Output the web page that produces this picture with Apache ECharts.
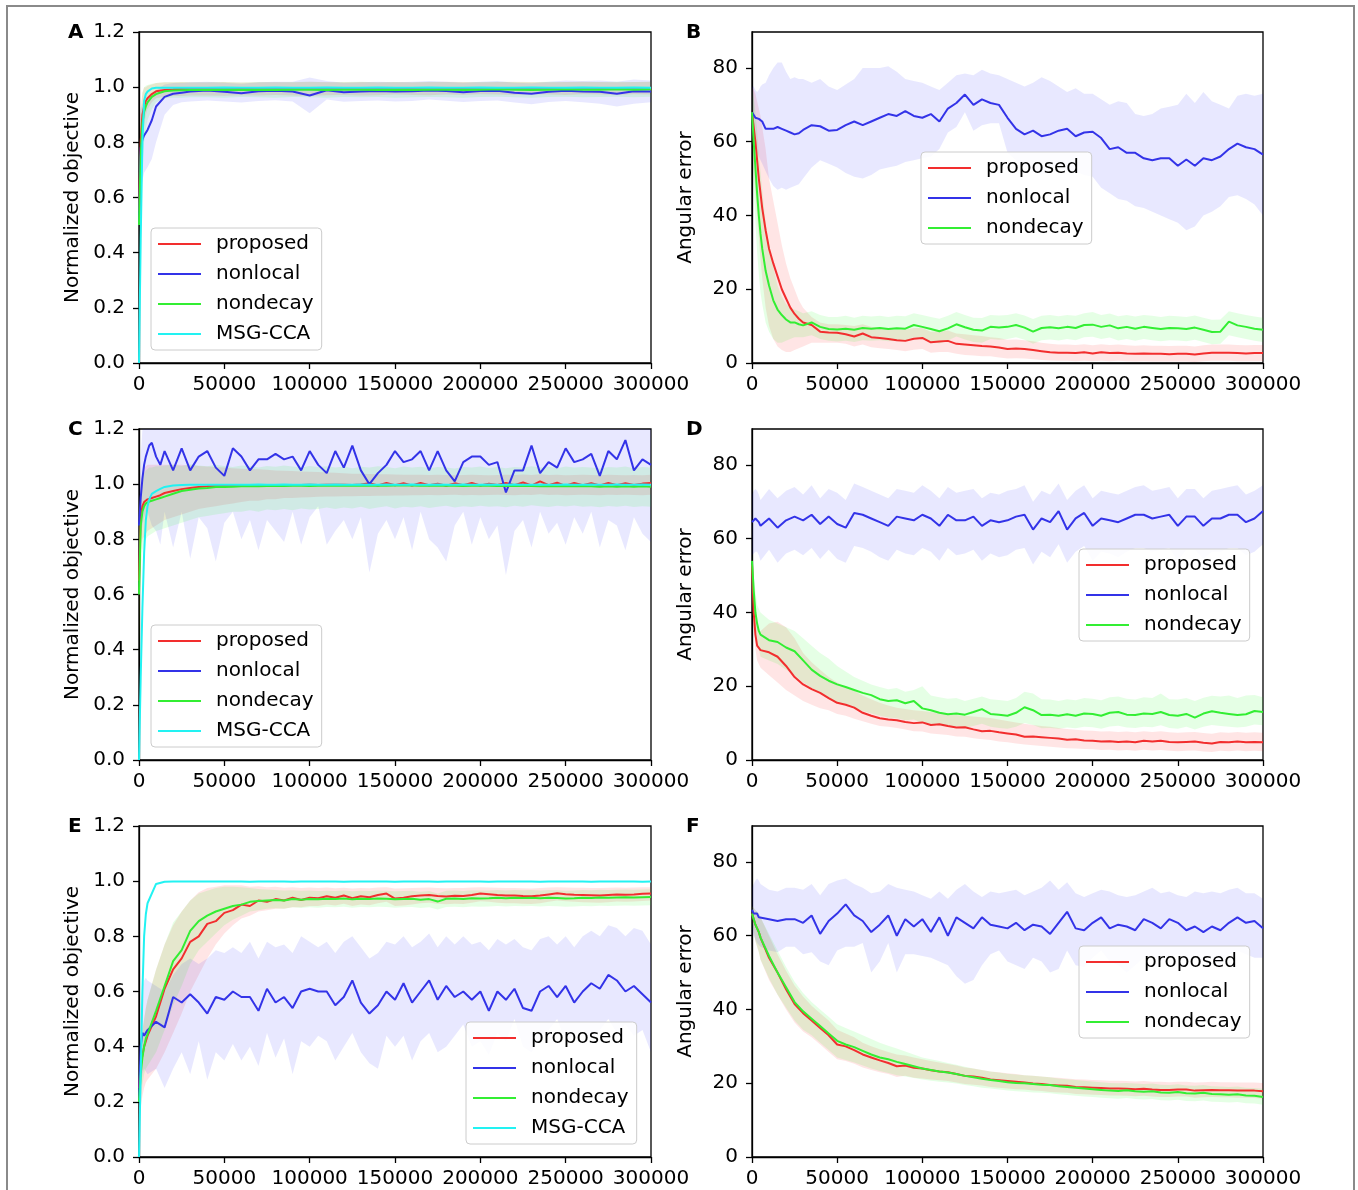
<!DOCTYPE html>
<html>
<head>
<meta charset="utf-8">
<script src="https://cdn.jsdelivr.net/npm/echarts@6/dist/echarts.min.js"></script>
<style>
  html, body { margin: 0; background: #fff; }
  #chart { width: 1358px; height: 1190px; }
</style>
</head>
<body>
<div id="chart"></div>
<script>
const range = (a, b, s) => { const r = []; for (let v = a; v <= b; v += s) r.push(v); return r }

// iteration positions of the samples, per panel
const xA = [0, 1000, 2000, 3000, 4000, 5000, 7500, 10000, 15000, 20000, 25000, 30000].concat(range(40000, 300000, 10000))
const xB = [0, 1000, 2000, 3000, 4000, 5000, 6000, 8000, 10000, 12500, 15000, 17500, 20000, 22500, 25000, 27500].concat(range(30000, 300000, 5000))
const xC = [0, 1000, 2000, 3000, 4000, 5000, 6000, 7500, 10000, 12500].concat(range(15000, 300000, 5000))
const xD = [0, 1000, 2000, 3000, 4000].concat(range(5000, 300000, 5000))
const xE = xD
const xF = xD

const xTicks = [0, 50000, 100000, 150000, 200000, 250000, 300000]
const objTicks = [0, 0.2, 0.4, 0.6, 0.8, 1.0, 1.2]
const angTicks = [0, 20, 40, 60, 80]

// ---- A: normalized objective ----
const aProposed = [0.55, 0.80, 0.90, 0.93, 0.95, 0.96, 0.975, 0.985, 0.990, 0.992, 0.993, 0.993,
  0.994, 0.993, 0.994, 0.994, 0.993, 0.994, 0.994, 0.995, 0.994, 0.995,
  0.995, 0.996, 0.995, 0.996, 0.995, 0.996, 0.996, 0.995, 0.996, 0.996,
  0.997, 0.996, 0.996, 0.997, 0.996, 0.996, 0.997]
const aProposedLo = [0.35, 0.65, 0.80, 0.86, 0.90, 0.92, 0.945, 0.960, 0.965, 0.968, 0.968, 0.970,
  0.970, 0.969, 0.971, 0.970, 0.972, 0.970, 0.968, 0.971, 0.972, 0.970,
  0.971, 0.973, 0.972, 0.971, 0.973, 0.972, 0.974, 0.973, 0.972, 0.974,
  0.973, 0.972, 0.974, 0.973, 0.972, 0.974, 0.973]
const aProposedHi = [0.75, 0.92, 0.98, 1.00, 1.00, 1.005, 1.010, 1.015, 1.018, 1.018, 1.019, 1.018,
  1.018, 1.019, 1.017, 1.018, 1.019, 1.018, 1.020, 1.019, 1.018, 1.019,
  1.018, 1.019, 1.018, 1.019, 1.020, 1.019, 1.018, 1.019, 1.020, 1.019,
  1.018, 1.019, 1.020, 1.019, 1.018, 1.019, 1.020]
const aNonlocal = [0.50, 0.78, 0.81, 0.825, 0.835, 0.845, 0.88, 0.93, 0.965, 0.976, 0.980, 0.984,
  0.988, 0.983, 0.978, 0.985, 0.987, 0.984, 0.970, 0.989, 0.982, 0.984,
  0.986, 0.984, 0.985, 0.988, 0.986, 0.982, 0.986, 0.987, 0.980, 0.976,
  0.983, 0.987, 0.984, 0.983, 0.976, 0.985, 0.984]
const aNonlocalLo = [0.30, 0.60, 0.66, 0.69, 0.70, 0.71, 0.74, 0.80, 0.90, 0.935, 0.945, 0.948,
  0.952, 0.948, 0.944, 0.950, 0.953, 0.948, 0.905, 0.955, 0.947, 0.950,
  0.952, 0.948, 0.950, 0.955, 0.951, 0.946, 0.950, 0.952, 0.944, 0.938,
  0.946, 0.950, 0.945, 0.940, 0.930, 0.940, 0.945]
const aNonlocalHi = [0.70, 0.92, 0.94, 0.95, 0.955, 0.96, 0.975, 0.99, 1.01, 1.015, 1.015, 1.018,
  1.020, 1.016, 1.012, 1.018, 1.020, 1.020, 1.035, 1.022, 1.016, 1.018,
  1.020, 1.018, 1.020, 1.022, 1.020, 1.016, 1.020, 1.022, 1.016, 1.014,
  1.020, 1.024, 1.022, 1.024, 1.020, 1.028, 1.024]
const aNondecay = [0.50, 0.75, 0.87, 0.91, 0.93, 0.945, 0.965, 0.975, 0.985, 0.988, 0.989, 0.990,
  0.990, 0.991, 0.990, 0.991, 0.990, 0.991, 0.991, 0.990, 0.991, 0.991,
  0.990, 0.991, 0.990, 0.991, 0.991, 0.990, 0.991, 0.992, 0.991, 0.990,
  0.991, 0.992, 0.991, 0.991, 0.992, 0.991, 0.992]
const aNondecayLo = [0.30, 0.55, 0.72, 0.80, 0.85, 0.88, 0.92, 0.945, 0.960, 0.962, 0.962, 0.963,
  0.963, 0.962, 0.964, 0.963, 0.962, 0.964, 0.963, 0.962, 0.964, 0.963,
  0.964, 0.962, 0.963, 0.964, 0.963, 0.962, 0.964, 0.965, 0.963, 0.962,
  0.964, 0.965, 0.963, 0.964, 0.965, 0.963, 0.965]
const aNondecayHi = [0.70, 0.92, 0.98, 1.00, 1.005, 1.008, 1.012, 1.015, 1.018, 1.018, 1.019, 1.018,
  1.018, 1.019, 1.017, 1.019, 1.018, 1.019, 1.020, 1.018, 1.019, 1.020,
  1.018, 1.019, 1.018, 1.020, 1.019, 1.018, 1.019, 1.020, 1.019, 1.018,
  1.020, 1.019, 1.020, 1.019, 1.020, 1.019, 1.020]
const aMsg = [0.0, 0.45, 0.80, 0.95, 0.975, 0.984, 0.995, 0.998, 0.998, 0.998, 0.998, 0.998,
  0.998, 0.999, 0.998, 0.998, 0.999, 0.998, 0.998, 0.999, 0.998, 0.998,
  0.999, 0.998, 0.998, 0.999, 0.998, 0.998, 0.999, 0.998, 0.998, 0.999,
  0.998, 0.998, 0.999, 0.998, 0.998, 0.999, 0.998]

// ---- B: angular error ----
const bProposed = [68, 64, 60, 55, 50, 46, 42, 36, 31, 27, 23.5, 20, 17.5, 15, 13.3, 12,
  11, 10.3, 8.5, 8.3, 8.2, 7.8, 7.2, 8, 7, 6.8,
  6.5, 6.2, 6, 6.6, 6.8, 5.6, 5.8, 6, 5.2, 5,
  4.8, 4.6, 4.5, 4.2, 3.8, 3.9, 3.8, 3.5, 3.2, 2.9,
  2.8, 2.8, 2.7, 2.9, 2.6, 2.9, 2.7, 2.8, 2.6, 2.5,
  2.6, 2.5, 2.5, 2.4, 2.5, 2.5, 2.3, 2.6, 2.8, 2.8,
  2.8, 2.7, 2.6, 2.7, 2.7]
const bProposedLo = [60, 52, 46, 40, 34, 28, 23, 15, 10, 6.5, 4.5, 3.5, 3, 3, 3.5, 4,
  4.5, 5.5, 5.5, 5.5, 5.5, 5.2, 4.5, 5, 4.3, 4,
  3.8, 3.5, 3.2, 3.6, 3.8, 2.8, 3, 3, 2.5, 2.2,
  2, 1.8, 1.8, 1.5, 1.2, 1.3, 1.2, 1, 0.8, 0.7,
  0.6, 0.6, 0.5, 0.6, 0.5, 0.6, 0.5, 0.6, 0.5, 0.4,
  0.5, 0.4, 0.4, 0.4, 0.4, 0.4, 0.3, 0.5, 0.6, 0.6,
  0.6, 0.5, 0.5, 0.5, 0.5]
const bProposedHi = [75, 74, 73, 71, 69, 67, 64, 58, 50, 44, 38, 32, 27, 23, 20, 17,
  15, 12.5, 11, 10.5, 10.5, 10.3, 10, 10.5, 9.8, 9.5,
  9.3, 9, 9, 9.5, 9.5, 8.5, 8.6, 8.8, 8, 7.8,
  7.5, 7.3, 7, 6.8, 6.3, 6.4, 6.2, 5.9, 5.5, 5.2,
  5, 5, 4.9, 5.1, 4.8, 5.1, 4.9, 5, 4.8, 4.7,
  4.8, 4.7, 4.7, 4.6, 4.7, 4.7, 4.5, 4.8, 5, 5,
  5, 4.9, 4.8, 4.9, 4.9]
const bNonlocal = [68, 67.5, 66.5, 66, 66.2, 66, 65.5, 63.5, 63.5, 63.5, 64, 63.5, 63, 62.5, 62, 62.3,
  63.2, 64.5, 64.2, 63, 63.2, 64.5, 65.5, 64.5, 65.5, 66.5,
  67.5, 67, 68.3, 67, 66.5, 67.5, 65.5, 69, 70.5, 72.8,
  70, 71.5, 70.5, 70, 66.5, 63.5, 62, 63, 61.5, 62,
  63, 63.5, 61.5, 62.5, 62.7, 61, 58, 58.5, 57, 57,
  55.5, 55, 55.5, 55.5, 53.5, 55.2, 53.5, 55.5, 55, 56,
  58, 59.5, 58.5, 58, 56.5]
const bNonlocalLo = [62, 60, 58, 57, 56, 55, 54, 52, 50, 48, 47, 47.5, 47, 47.5, 48, 48.5,
  50, 53, 55, 54, 53, 51.5, 50.5, 50, 51, 52.5,
  53, 53.5, 54.5, 55, 55.5, 56, 58, 62.5, 64, 68,
  63, 64.5, 65, 65, 57, 55, 53.5, 52, 51, 52.5,
  53, 52, 52, 51, 50.5, 47.5, 46, 44.5, 44, 42.5,
  42, 41, 40, 39, 38, 36, 37, 40, 41, 42.5,
  45, 45.5, 44.5, 43, 40]
const bNonlocalHi = [75, 75, 74, 73.5, 74, 75, 75.5, 76, 78, 80, 81.5, 81.5, 79, 77, 77.5, 77,
  77, 76, 77, 75, 74, 75.5, 77, 80, 80, 80,
  80.5, 79, 77, 76.5, 76, 75, 74, 76, 78, 78.5,
  78, 79.5, 78.5, 78, 77, 76, 75, 76, 77.5, 76.5,
  75, 73.5, 74.5, 73, 73, 71.5, 70, 71, 70.5, 67.5,
  67, 67.5, 69, 69.5, 70, 73, 70.5, 73.5, 71, 70,
  69, 72.5, 73, 72.5, 73]
const bNondecay = [68, 60, 53, 46, 40, 35, 31, 25, 21, 17, 14.5, 13, 11.8, 11, 11, 10.5,
  10.2, 11, 9.8, 9.2, 9.1, 9.3, 9, 9.5, 9.3, 9.5,
  9.2, 9.4, 9.3, 10.3, 9.8, 9.2, 8.6, 9.4, 10.5, 9.7,
  9, 8.8, 9.8, 9.6, 9.8, 10.3, 9.6, 8.5, 9.5, 9.7,
  9.4, 9.8, 9.5, 10.3, 10.4, 9.8, 10.2, 9.4, 9.8, 9.3,
  9.8, 9.5, 9.2, 9.5, 9.4, 9.2, 9.6, 9, 8.4, 8.5,
  11.2, 10.2, 9.8, 9.3, 9]
const bNondecayLo = [60, 48, 38, 30, 24, 19, 16, 11, 8.5, 6.5, 5.5, 5.5, 6, 6.5, 7, 7,
  7, 7.5, 6.5, 6, 5.8, 6, 5.7, 6.2, 6, 6.2,
  5.9, 6.1, 6, 7, 6.5, 5.9, 5.3, 6.1, 7.2, 6.4,
  5.7, 5.5, 6.5, 6.3, 6.5, 7, 6.3, 5.2, 6.2, 6.4,
  6.1, 6.5, 6.2, 7, 7.1, 6.5, 6.9, 6.1, 6.5, 6,
  6.5, 6.2, 5.9, 6.2, 6.1, 5.9, 6.3, 5.7, 5.1, 5.2,
  7.5, 7, 6.5, 6, 5.7]
const bNondecayHi = [75, 72, 68, 63, 57, 52, 47, 38, 32, 26, 21, 18, 16, 15, 14.5, 14,
  13.5, 14, 13, 12.5, 12.5, 12.8, 12.3, 12.8, 12.6, 12.8,
  12.5, 12.8, 12.7, 13.5, 13, 12.5, 12, 12.8, 13.8, 13,
  12.3, 12.2, 13, 12.9, 13, 13.5, 12.9, 11.9, 12.8, 13,
  12.7, 13, 12.8, 13.5, 13.8, 13, 13.4, 12.7, 13, 12.6,
  13, 12.8, 12.5, 12.8, 12.7, 12.5, 12.9, 12.3, 11.7, 11.8,
  14, 13.5, 13, 12.6, 12.3]

// ---- C: normalized objective ----
const cProposed = [0.65, 0.88, 0.92, 0.935, 0.94, 0.945, 0.948, 0.95, 0.955, 0.96,
  0.968, 0.975, 0.982, 0.986, 0.990, 0.992, 0.993, 0.994, 0.995, 0.995,
  0.996, 0.996, 0.996, 0.997, 0.997, 0.997, 0.997, 0.998, 0.997, 0.998,
  0.998, 0.998, 0.997, 0.999, 1.003, 0.995, 1.004, 0.996, 1.003, 0.995,
  1.004, 0.996, 1.002, 0.994, 1.003, 0.996, 1.004, 0.995, 1.002, 0.997,
  1.004, 0.996, 1.006, 0.995, 1.010, 0.996, 1.005, 0.994, 1.004, 0.996,
  1.003, 0.995, 1.004, 0.996, 1.003, 0.997, 1.002, 1.004]
const cProposedLo = [0.40, 0.75, 0.80, 0.81, 0.82, 0.83, 0.835, 0.84, 0.85, 0.86,
  0.87, 0.88, 0.89, 0.90, 0.91, 0.915, 0.92, 0.925, 0.93, 0.935,
  0.94, 0.94, 0.945, 0.945, 0.95, 0.95, 0.952, 0.953, 0.954, 0.955,
  0.955, 0.956, 0.956, 0.957, 0.957, 0.958, 0.958, 0.959, 0.959, 0.96,
  0.96, 0.961, 0.96, 0.961, 0.962, 0.96, 0.961, 0.96, 0.961, 0.962,
  0.961, 0.96, 0.962, 0.961, 0.963, 0.961, 0.962, 0.96, 0.961, 0.962,
  0.961, 0.96, 0.962, 0.961, 0.962, 0.961, 0.96, 0.962]
const cProposedHi = [0.90, 1.00, 1.04, 1.06, 1.065, 1.07, 1.07, 1.07, 1.07, 1.07,
  1.07, 1.07, 1.07, 1.068, 1.066, 1.064, 1.062, 1.06, 1.058, 1.056,
  1.055, 1.054, 1.052, 1.05, 1.049, 1.048, 1.046, 1.045, 1.044, 1.042,
  1.041, 1.04, 1.038, 1.038, 1.037, 1.036, 1.036, 1.035, 1.034, 1.034,
  1.034, 1.033, 1.034, 1.033, 1.032, 1.033, 1.034, 1.033, 1.032, 1.033,
  1.034, 1.033, 1.035, 1.033, 1.036, 1.033, 1.034, 1.032, 1.033, 1.034,
  1.033, 1.032, 1.034, 1.033, 1.032, 1.033, 1.032, 1.034]
const cNonlocal = [0.85, 0.95, 1.02, 1.07, 1.10, 1.12, 1.14, 1.15, 1.10, 1.07,
  1.12, 1.05, 1.13, 1.05, 1.10, 1.12, 1.06, 1.03, 1.13, 1.10,
  1.05, 1.09, 1.09, 1.11, 1.09, 1.10, 1.05, 1.12, 1.07, 1.04,
  1.12, 1.06, 1.14, 1.05, 1.00, 1.04, 1.07, 1.12, 1.08, 1.09,
  1.12, 1.05, 1.12, 1.05, 1.01, 1.08, 1.10, 1.10, 1.07, 1.08,
  0.97, 1.05, 1.05, 1.14, 1.04, 1.08, 1.06, 1.13, 1.08, 1.09,
  1.11, 1.03, 1.12, 1.09, 1.16, 1.05, 1.09, 1.07]
const cNonlocalLo = [0.70, 0.80, 0.85, 0.88, 0.90, 0.90, 0.88, 0.85, 0.83, 0.78,
  0.90, 0.77, 0.90, 0.73, 0.88, 0.84, 0.72, 0.86, 0.90, 0.80,
  0.87, 0.76, 0.87, 0.83, 0.79, 0.90, 0.78, 0.88, 0.92, 0.78,
  0.83, 0.87, 0.80, 0.88, 0.68, 0.82, 0.87, 0.80, 0.88, 0.76,
  0.90, 0.80, 0.77, 0.72, 0.85, 0.90, 0.78, 0.88, 0.80, 0.85,
  0.67, 0.83, 0.87, 0.77, 0.90, 0.82, 0.86, 0.78, 0.88, 0.82,
  0.90, 0.77, 0.87, 0.85, 0.76, 0.88, 0.82, 0.79]
const cNonlocalHi = [0.95, 1.10, 1.20, 1.25, 1.28, 1.30, 1.30, 1.30, 1.28, 1.26,
  1.32, 1.25, 1.33, 1.25, 1.30, 1.32, 1.26, 1.23, 1.33, 1.30,
  1.25, 1.29, 1.29, 1.31, 1.29, 1.30, 1.25, 1.32, 1.27, 1.24,
  1.32, 1.26, 1.34, 1.25, 1.22, 1.24, 1.27, 1.32, 1.28, 1.29,
  1.32, 1.25, 1.32, 1.25, 1.22, 1.28, 1.30, 1.30, 1.27, 1.28,
  1.22, 1.25, 1.25, 1.34, 1.24, 1.28, 1.26, 1.33, 1.28, 1.29,
  1.31, 1.23, 1.32, 1.29, 1.36, 1.25, 1.29, 1.27]
const cNondecay = [0.60, 0.85, 0.90, 0.92, 0.93, 0.935, 0.937, 0.94, 0.945, 0.95,
  0.955, 0.965, 0.975, 0.98, 0.984, 0.986, 0.99, 0.99, 0.991, 0.992,
  0.993, 0.992, 0.993, 0.994, 0.993, 0.994, 0.994, 0.993, 0.994, 0.995,
  0.994, 0.995, 0.994, 0.995, 0.994, 0.995, 0.994, 0.995, 0.996, 0.995,
  0.994, 0.995, 0.994, 0.995, 0.994, 0.993, 0.994, 0.995, 0.994, 0.993,
  0.994, 0.993, 0.994, 0.993, 0.992, 0.993, 0.992, 0.993, 0.992, 0.993,
  0.992, 0.991, 0.992, 0.991, 0.992, 0.991, 0.992, 0.991]
const cNondecayLo = [0.35, 0.70, 0.76, 0.78, 0.80, 0.81, 0.815, 0.82, 0.83, 0.835,
  0.84, 0.85, 0.86, 0.87, 0.88, 0.885, 0.89, 0.895, 0.90, 0.90,
  0.905, 0.90, 0.908, 0.905, 0.91, 0.905, 0.912, 0.908, 0.91, 0.915,
  0.91, 0.915, 0.912, 0.918, 0.91, 0.915, 0.92, 0.912, 0.918, 0.915,
  0.92, 0.914, 0.918, 0.922, 0.915, 0.92, 0.917, 0.922, 0.918, 0.92,
  0.916, 0.922, 0.918, 0.924, 0.92, 0.917, 0.922, 0.919, 0.923, 0.918,
  0.92, 0.916, 0.921, 0.918, 0.922, 0.917, 0.92, 0.918]
const cNondecayHi = [0.85, 0.98, 1.02, 1.04, 1.05, 1.055, 1.06, 1.06, 1.065, 1.065,
  1.068, 1.07, 1.066, 1.072, 1.068, 1.065, 1.07, 1.066, 1.062, 1.068,
  1.065, 1.06, 1.066, 1.063, 1.068, 1.064, 1.06, 1.066, 1.062, 1.065,
  1.06, 1.064, 1.058, 1.063, 1.06, 1.065, 1.062, 1.058, 1.064, 1.06,
  1.063, 1.058, 1.062, 1.06, 1.057, 1.062, 1.06, 1.064, 1.059, 1.062,
  1.058, 1.062, 1.06, 1.065, 1.06, 1.063, 1.058, 1.064, 1.06, 1.062,
  1.06, 1.057, 1.062, 1.06, 1.064, 1.058, 1.062, 1.06]
const cMsg = [0.0, 0.30, 0.55, 0.75, 0.87, 0.92, 0.945, 0.965, 0.975, 0.983,
  0.990, 0.995, 0.997, 0.998, 0.998, 0.998, 0.998, 0.998, 0.998, 0.998,
  0.998, 0.999, 0.998, 0.998, 0.999, 0.998, 0.998, 0.999, 0.998, 0.998,
  0.999, 0.998, 0.998, 0.999, 0.998, 0.998, 0.999, 0.998, 0.998, 0.999,
  0.998, 0.998, 0.999, 0.998, 0.998, 0.999, 0.998, 0.998, 0.999, 0.998,
  0.998, 0.999, 0.998, 0.998, 0.999, 0.998, 0.998, 0.999, 0.998, 0.998,
  0.999, 0.998, 0.998, 0.999, 0.998, 0.998, 0.999, 0.998]

// ---- D: angular error ----
const dProposed = [53, 40, 34, 31, 30.5,
  29.8, 29.2, 28, 25.5, 22.5, 20.5, 19.2, 18.2, 16.8, 15.5,
  15, 14.2, 12.8, 12, 11.3, 11, 10.8, 10.3, 10, 10.2,
  9.5, 9.7, 9.2, 8.8, 8.9, 8.3, 7.8, 7.9, 7.5, 7.2,
  6.9, 6.3, 6.4, 6.2, 6, 5.8, 5.5, 5.6, 5.3, 5.2,
  5, 5.1, 4.9, 5, 4.8, 5.2, 5, 5.2, 4.9, 4.8,
  4.9, 5, 4.7, 4.5, 4.9, 4.8, 5, 4.8, 4.9, 4.8]
const dProposedLo = [50, 36, 30, 27, 26,
  25, 23, 21, 19, 17.5, 16, 15, 14, 13.5, 12.5,
  12, 11.2, 10.5, 9.8, 9.2, 9, 8.7, 8.3, 7.8, 7.7,
  7.2, 7, 6.8, 6.4, 6.3, 5.9, 5.6, 5.4, 5, 4.8,
  4.5, 4.2, 4, 3.8, 3.6, 3.4, 3.2, 3.1, 3, 2.9,
  2.7, 2.8, 2.6, 2.7, 2.5, 2.8, 2.6, 2.7, 2.5, 2.4,
  2.5, 2.6, 2.3, 2.2, 2.5, 2.4, 2.6, 2.4, 2.5, 2.4]
const dProposedHi = [55, 47, 40, 36, 35,
  35, 37, 37.5, 36, 33, 29, 26.5, 24.5, 22.5, 21,
  19.8, 18.8, 17.5, 16.5, 15.5, 14.8, 14.2, 13.8, 13.5, 13.3,
  13, 12.7, 12.5, 12.2, 12, 11.8, 11.6, 11.4, 11, 10.6,
  10.2, 9.8, 9.5, 9.2, 9, 8.7, 8.4, 8.2, 8, 7.9,
  7.7, 7.8, 7.6, 7.7, 7.5, 7.8, 7.6, 7.8, 7.5, 7.4,
  7.5, 7.6, 7.3, 7.1, 7.5, 7.4, 7.6, 7.4, 7.5, 7.4]
const dNonlocal = [64.5, 65, 65.5, 65, 64.5,
  63.5, 65.5, 63, 65, 66, 65, 66.5, 64, 66, 64,
  63, 67, 66.5, 65.5, 64.5, 63.5, 66, 65.5, 65, 66.5,
  65.5, 63.5, 66.5, 65, 65, 66, 63.5, 65, 64.5, 65,
  66, 66.5, 62.5, 65.5, 64.5, 67.5, 62.5, 65.5, 67, 63.5,
  65.5, 65, 64.5, 65.5, 66.5, 66.5, 65.5, 66, 66.5, 63.5,
  66, 66, 63.5, 65.5, 65.5, 66.5, 66.5, 64.5, 65.5, 67.5]
const dNonlocalLo = [55.5, 56, 56.5, 56.5, 55.5,
  54, 57, 53.5, 56, 57, 55.5, 57.5, 54.5, 57, 54.5,
  53.5, 58, 57.5, 56.5, 55, 54, 57, 56, 55.5, 57.5,
  56.5, 54, 57.5, 55.5, 56, 57, 54, 56, 55, 55.5,
  57, 57.5, 53, 56.5, 55, 58.5, 53.5, 56.5, 58, 54,
  56.5, 56, 55, 56.5, 57.5, 57.5, 56.5, 57, 57.5, 54,
  57, 57, 54.5, 56.5, 56.5, 57.5, 57.5, 55.5, 56.5, 58.5]
const dNonlocalHi = [72, 73, 73.5, 73, 72,
  70.5, 73.5, 71, 73, 74, 72, 74.5, 71, 73.5, 72.5,
  70.5, 75, 74, 73, 72, 71, 73.5, 73, 72.5, 74.5,
  73, 71, 74, 72.5, 73, 73.5, 71, 72.5, 72, 73,
  73.5, 74.5, 70, 73, 72, 75, 70.5, 73, 74.5, 71,
  73, 72.5, 72, 73, 74, 74.5, 73, 73.5, 74, 71,
  73.5, 73.5, 71, 73, 73.5, 74, 74.5, 72, 73, 74.5]
const dNondecay = [54, 46, 40, 37, 35,
  34, 32.5, 32, 30.5, 29.5, 27, 24.5, 22.8, 21.5, 20.5,
  19.8, 19, 18.2, 17.6, 16.5, 16, 16.2, 15.4, 16, 14,
  13.5, 12.8, 12.4, 12.6, 12.3, 13, 13.8, 12.5, 12.3, 12,
  12.8, 14.3, 13.5, 12.2, 12.3, 12, 12.4, 12, 12.6, 12.5,
  12, 12.8, 13, 12.3, 12.2, 12.6, 12.5, 13, 12.2, 12,
  12.5, 11.5, 12.6, 13.2, 12.8, 12.5, 12.2, 12.4, 13.3, 13]
const dNondecayLo = [52, 42, 35, 32, 30,
  28, 27, 26, 24.5, 23, 21, 19.5, 18, 16.5, 15.5,
  14.8, 14, 13.3, 12.6, 12, 11.5, 11.3, 10.8, 11, 10,
  9.8, 9.3, 9, 9.2, 8.8, 9.2, 9.8, 9, 8.7, 8.5,
  9, 10, 9.5, 8.6, 8.7, 8.5, 8.8, 8.6, 9, 8.9,
  8.5, 9.1, 9.3, 8.8, 8.7, 9, 8.9, 9.4, 8.7, 8.5,
  9, 8.3, 9, 9.5, 9.2, 9, 8.8, 9, 9.6, 9.4]
const dNondecayHi = [56, 50, 46, 42, 41,
  40, 38, 37, 36, 35, 33, 31, 29, 27.5, 25.5,
  24, 22.5, 21.5, 20.5, 19.8, 19.2, 19.5, 18.5, 19, 20,
  17.5, 17, 16.6, 16.8, 16, 16.6, 17.2, 16.5, 16.3, 16,
  16.8, 18.5, 18, 16.5, 16.4, 16, 16.5, 16.2, 16.8, 16.6,
  16.2, 17, 17.2, 16.6, 16.4, 17, 16.8, 18, 16.5, 16.4,
  16.8, 16, 16.9, 17.4, 17.2, 17.5, 16.8, 17.5, 17.6, 17]

// ---- E: normalized objective ----
const eProposed = [0.25, 0.33, 0.37, 0.40, 0.42,
  0.44, 0.51, 0.61, 0.68, 0.72, 0.78, 0.80, 0.845, 0.855, 0.885,
  0.895, 0.915, 0.91, 0.93, 0.925, 0.935, 0.93, 0.94, 0.932, 0.94,
  0.938, 0.945, 0.94, 0.948, 0.938, 0.945, 0.942, 0.95, 0.955, 0.937,
  0.94, 0.945, 0.948, 0.95, 0.946, 0.944, 0.947, 0.946, 0.95, 0.955,
  0.953, 0.95, 0.948, 0.948, 0.946, 0.945, 0.948, 0.952, 0.956, 0.953,
  0.951, 0.95, 0.949, 0.948, 0.95, 0.952, 0.951, 0.952, 0.954, 0.955]
const eProposedLo = [0.12, 0.18, 0.22, 0.25, 0.27,
  0.28, 0.32, 0.38, 0.45, 0.52, 0.60, 0.66, 0.72, 0.77, 0.81,
  0.84, 0.865, 0.875, 0.89, 0.895, 0.90, 0.90, 0.905, 0.905, 0.91,
  0.91, 0.915, 0.912, 0.918, 0.91, 0.915, 0.913, 0.92, 0.925, 0.91,
  0.912, 0.915, 0.92, 0.922, 0.918, 0.916, 0.918, 0.917, 0.922, 0.927,
  0.925, 0.922, 0.92, 0.92, 0.918, 0.917, 0.92, 0.925, 0.93, 0.927,
  0.925, 0.924, 0.923, 0.922, 0.924, 0.926, 0.925, 0.926, 0.928, 0.93]
const eProposedHi = [0.30, 0.40, 0.46, 0.50, 0.54,
  0.57, 0.68, 0.77, 0.84, 0.89, 0.93, 0.96, 0.975, 0.98, 0.985,
  0.985, 0.985, 0.98, 0.982, 0.978, 0.98, 0.976, 0.978, 0.975, 0.977,
  0.975, 0.977, 0.974, 0.976, 0.973, 0.975, 0.974, 0.977, 0.978, 0.973,
  0.974, 0.975, 0.976, 0.977, 0.975, 0.974, 0.975, 0.975, 0.977, 0.978,
  0.977, 0.976, 0.975, 0.975, 0.974, 0.973, 0.975, 0.977, 0.978, 0.977,
  0.976, 0.976, 0.975, 0.975, 0.976, 0.977, 0.976, 0.977, 0.978, 0.978]
const eNonlocal = [0.21, 0.40, 0.45, 0.44, 0.45,
  0.46, 0.49, 0.47, 0.58, 0.56, 0.59, 0.56, 0.52, 0.58, 0.57,
  0.60, 0.58, 0.58, 0.53, 0.61, 0.56, 0.58, 0.54, 0.60, 0.61,
  0.60, 0.60, 0.55, 0.58, 0.64, 0.56, 0.52, 0.55, 0.60, 0.57,
  0.63, 0.56, 0.60, 0.64, 0.57, 0.62, 0.58, 0.60, 0.57, 0.60,
  0.53, 0.60, 0.57, 0.61, 0.54, 0.53, 0.60, 0.62, 0.58, 0.62,
  0.56, 0.60, 0.63, 0.61, 0.66, 0.64, 0.60, 0.62, 0.59, 0.56]
const eNonlocalLo = [0.10, 0.25, 0.30, 0.32, 0.31,
  0.30, 0.32, 0.25, 0.32, 0.38, 0.30, 0.42, 0.28, 0.38, 0.35,
  0.41, 0.35, 0.40, 0.33, 0.45, 0.36, 0.43, 0.30, 0.42, 0.40,
  0.44, 0.42, 0.35, 0.40, 0.45, 0.38, 0.34, 0.32, 0.44, 0.40,
  0.44, 0.35, 0.42, 0.45, 0.38, 0.40, 0.44, 0.48, 0.40, 0.42,
  0.37, 0.45, 0.42, 0.50, 0.40, 0.38, 0.43, 0.46, 0.50, 0.42,
  0.44, 0.46, 0.43, 0.46, 0.50, 0.45, 0.48, 0.44, 0.46, 0.38]
const eNonlocalHi = [0.30, 0.55, 0.62, 0.64, 0.65,
  0.64, 0.62, 0.60, 0.66, 0.70, 0.72, 0.70, 0.72, 0.75, 0.74,
  0.76, 0.74, 0.78, 0.72, 0.78, 0.76, 0.77, 0.74, 0.80, 0.78,
  0.76, 0.78, 0.74, 0.78, 0.80, 0.76, 0.72, 0.74, 0.78, 0.77,
  0.80, 0.76, 0.78, 0.81, 0.76, 0.80, 0.77, 0.80, 0.77, 0.78,
  0.75, 0.79, 0.77, 0.79, 0.76, 0.75, 0.79, 0.80, 0.77, 0.80,
  0.76, 0.80, 0.82, 0.80, 0.84, 0.83, 0.80, 0.83, 0.82, 0.77]
const eNondecay = [0.20, 0.30, 0.36, 0.40, 0.43,
  0.445, 0.53, 0.62, 0.71, 0.75, 0.82, 0.855, 0.875, 0.89, 0.90,
  0.91, 0.915, 0.925, 0.928, 0.93, 0.932, 0.93, 0.935, 0.933, 0.935,
  0.934, 0.936, 0.935, 0.937, 0.934, 0.936, 0.935, 0.937, 0.936, 0.934,
  0.935, 0.936, 0.933, 0.935, 0.926, 0.936, 0.937, 0.935, 0.938, 0.937,
  0.938, 0.94, 0.938, 0.94, 0.939, 0.94, 0.938, 0.94, 0.939, 0.937,
  0.938, 0.94, 0.939, 0.941, 0.94, 0.941, 0.942, 0.941, 0.942, 0.943]
const eNondecayLo = [0.10, 0.20, 0.26, 0.30, 0.32,
  0.33, 0.38, 0.46, 0.55, 0.62, 0.70, 0.75, 0.78, 0.81, 0.84,
  0.86, 0.875, 0.89, 0.895, 0.90, 0.902, 0.90, 0.905, 0.903, 0.905,
  0.904, 0.906, 0.905, 0.907, 0.904, 0.906, 0.905, 0.907, 0.906, 0.904,
  0.905, 0.906, 0.903, 0.905, 0.897, 0.906, 0.907, 0.905, 0.908, 0.907,
  0.908, 0.91, 0.908, 0.91, 0.909, 0.91, 0.908, 0.91, 0.909, 0.907,
  0.908, 0.91, 0.909, 0.911, 0.91, 0.911, 0.912, 0.911, 0.912, 0.913]
const eNondecayHi = [0.30, 0.40, 0.46, 0.50, 0.54,
  0.57, 0.68, 0.77, 0.85, 0.89, 0.93, 0.955, 0.965, 0.975, 0.98,
  0.98, 0.978, 0.975, 0.972, 0.97, 0.968, 0.966, 0.967, 0.965, 0.966,
  0.964, 0.965, 0.964, 0.966, 0.963, 0.965, 0.964, 0.966, 0.965, 0.963,
  0.964, 0.965, 0.962, 0.964, 0.955, 0.965, 0.966, 0.964, 0.967, 0.966,
  0.966, 0.968, 0.966, 0.968, 0.967, 0.968, 0.966, 0.968, 0.967, 0.965,
  0.966, 0.968, 0.967, 0.969, 0.968, 0.969, 0.97, 0.969, 0.97, 0.971]
const eMsg = [0.0, 0.30, 0.60, 0.80, 0.88,
  0.92, 0.990, 0.998, 0.999, 0.999, 0.999, 0.999, 0.999, 0.999, 0.999,
  0.999, 0.999, 0.998, 0.999, 0.999, 0.999, 0.999, 0.998, 0.999, 0.999,
  0.999, 0.999, 0.999, 0.998, 0.999, 0.999, 0.999, 0.999, 0.999, 0.998,
  0.999, 0.999, 0.999, 0.999, 0.998, 0.999, 0.999, 0.999, 0.999, 0.999,
  0.998, 0.999, 0.999, 0.999, 0.999, 0.999, 0.998, 0.999, 0.999, 0.999,
  0.999, 0.999, 0.998, 0.999, 0.999, 0.999, 0.999, 0.999, 0.998, 0.999]

// ---- F: angular error ----
const fProposed = [66, 64.5, 63, 62, 61,
  59.5, 54, 50, 45.5, 41.5, 39, 37, 35, 33, 30.5,
  30, 29, 27.8, 27, 26.2, 25.5, 24.6, 24.8, 24.2, 24,
  23.5, 23.2, 23, 22.5, 22, 21.8, 21.5, 21, 20.8, 20.6,
  20.4, 20.2, 19.9, 19.8, 19.5, 19.4, 19.3, 19, 18.9, 18.8,
  18.7, 18.6, 18.6, 18.5, 18.4, 18.5, 18.3, 18.2, 18.2, 18.3,
  18.3, 18, 18.1, 18.2, 18.1, 18.1, 18, 18, 18, 17.8]
const fProposedLo = [64, 61, 58.5, 57, 55.5,
  53.5, 48, 44, 40, 36.5, 34, 32.5, 30.5, 28.5, 26.5,
  26, 25.3, 24.3, 23.6, 23, 22.5, 21.7, 22, 21.5, 21.3,
  21, 20.8, 20.6, 20.2, 19.8, 19.6, 19.4, 19, 18.8, 18.6,
  18.4, 18.3, 18, 17.9, 17.6, 17.5, 17.4, 17.1, 17, 16.9,
  16.8, 16.7, 16.7, 16.6, 16.5, 16.6, 16.4, 16.3, 16.3, 16.4,
  16.4, 16.1, 16.2, 16.3, 16.2, 16.2, 16.1, 16.1, 16, 15.8]
const fProposedHi = [68, 67.5, 67, 66.5, 66,
  65, 60, 55, 50.5, 46.5, 43.5, 41, 39, 37, 34.5,
  33.5, 32.5, 31, 30, 29.2, 28.5, 27.8, 27.5, 27, 26.5,
  26, 25.6, 25.2, 24.8, 24.3, 24, 23.6, 23.2, 23, 22.7,
  22.5, 22.2, 22, 21.8, 21.6, 21.5, 21.3, 21.1, 21, 20.9,
  20.8, 20.7, 20.7, 20.6, 20.5, 20.6, 20.4, 20.4, 20.3, 20.4,
  20.4, 20.2, 20.3, 20.4, 20.3, 20.3, 20.2, 20.2, 20.2, 20.1]
const fNonlocal = [67, 66, 65.5, 66, 65,
  65.5, 64.5, 64, 64.5, 64.5, 63.5, 65.5, 60.5, 64, 66,
  68.5, 65.5, 64, 61, 63, 65.5, 60, 64.5, 62.5, 64.5,
  61, 65, 60, 65, 63.5, 62, 65, 63, 62.5, 62,
  63.5, 61.5, 63, 62.5, 60.5, 63.5, 66.5, 62, 61.5, 63.5,
  65, 62, 63, 62.5, 61.5, 64.5, 63.5, 62, 64.5, 63.5,
  61.5, 62.5, 61, 62.5, 61.5, 63.5, 65, 63.5, 64, 62]
const fNonlocalLo = [61, 60, 59, 58, 57.5,
  57, 56, 55.5, 57, 57, 55, 55.5, 53, 52, 56,
  57, 57, 58, 50, 53, 58, 50, 55, 55, 54.5,
  54, 53, 52, 49, 47, 48, 52, 55, 56, 53,
  52, 51, 54, 53, 50, 51, 56, 52, 51.5, 54,
  56, 53, 52, 50, 52, 54, 54.5, 53, 54, 55,
  53, 54, 53, 54, 52, 55, 56, 55, 54, 54]
const fNonlocalHi = [73, 74, 75, 75.5, 75,
  74, 72.5, 72, 73, 73, 72.5, 74, 71, 74, 75,
  75.5, 74, 73, 71.5, 72, 74, 73, 72.5, 72, 71,
  70, 72, 70, 72.5, 74, 72, 70.5, 72, 71.5, 72,
  72.5, 71, 72, 73, 75, 72.5, 74.5, 71.5, 70.5, 71.5,
  72.5, 72, 71, 70.5, 71, 72, 73, 71.5, 72, 71,
  70.5, 72, 71.5, 72, 71.5, 72.5, 73, 71.5, 71.5, 70]
const fNondecay = [66, 64.5, 63, 62, 61,
  59.5, 54.5, 50, 46, 42, 39.5, 37.5, 35.5, 33.5, 31.5,
  30.5, 29.8, 28.8, 27.8, 27, 26.5, 25.8, 25.2, 24.6, 24,
  23.6, 23.2, 22.9, 22.5, 22, 21.6, 21.2, 20.9, 20.6, 20.3,
  20.1, 20, 19.8, 19.6, 19.5, 19.2, 19, 18.8, 18.6, 18.4,
  18.2, 18, 17.9, 18.1, 17.8, 17.7, 17.8, 17.5, 17.4, 17.6,
  17.3, 17.2, 17.4, 17.1, 17, 16.9, 17, 16.7, 16.6, 16.3]
const fNondecayLo = [64, 61, 58.5, 57, 55.5,
  53.5, 48.5, 44, 40.5, 37, 34.5, 33, 31, 29, 27,
  26.3, 25.6, 24.8, 24, 23.3, 22.8, 22.2, 21.8, 21.4, 21,
  20.7, 20.4, 20.2, 19.9, 19.5, 19.2, 18.8, 18.6, 18.3, 18,
  17.8, 17.7, 17.5, 17.4, 17.3, 17, 16.8, 16.6, 16.4, 16.3,
  16.1, 15.9, 15.8, 16, 15.7, 15.6, 15.7, 15.4, 15.3, 15.5,
  15.2, 15.1, 15.3, 15, 14.9, 14.8, 14.9, 14.6, 14.5, 14.2]
const fNondecayHi = [68, 67.5, 67, 66.5, 66,
  65, 60.5, 56, 51.5, 47.5, 44.5, 42, 40, 38, 36,
  35, 34, 33, 32, 31, 30.2, 29.4, 28.6, 27.8, 27,
  26.5, 26, 25.5, 25, 24.5, 24, 23.6, 23.2, 22.9, 22.6,
  22.4, 22.2, 22, 21.8, 21.6, 21.3, 21.1, 20.9, 20.7, 20.5,
  20.3, 20.1, 20, 20.1, 19.9, 19.8, 19.9, 19.6, 19.5, 19.7,
  19.4, 19.3, 19.5, 19.2, 19.1, 19, 19.1, 18.8, 18.7, 18.5]

const COLOR = { proposed: '#f22e2e', nonlocal: '#3333e8', nondecay: '#33ee33', 'MSG-CCA': '#22f2f2' }
const FILL = { proposed: 'rgba(255,0,0,0.1)', nonlocal: 'rgba(0,0,255,0.09)', nondecay: 'rgba(0,255,0,0.1)' }
const FONT = 'DejaVu Sans'

const panels = [
  { letter: 'A', kind: 'obj', pos: [139, 32], leg: [151, 228], x: xA, lines: [
    ['proposed', aProposed, aProposedLo, aProposedHi], ['nonlocal', aNonlocal, aNonlocalLo, aNonlocalHi],
    ['nondecay', aNondecay, aNondecayLo, aNondecayHi], ['MSG-CCA', aMsg]] },
  { letter: 'B', kind: 'ang', pos: [752, 32], leg: [921, 152], x: xB, lines: [
    ['proposed', bProposed, bProposedLo, bProposedHi], ['nonlocal', bNonlocal, bNonlocalLo, bNonlocalHi],
    ['nondecay', bNondecay, bNondecayLo, bNondecayHi]] },
  { letter: 'C', kind: 'obj', pos: [139, 429], leg: [151, 625], x: xC, lines: [
    ['proposed', cProposed, cProposedLo, cProposedHi], ['nonlocal', cNonlocal, cNonlocalLo, cNonlocalHi],
    ['nondecay', cNondecay, cNondecayLo, cNondecayHi], ['MSG-CCA', cMsg]] },
  { letter: 'D', kind: 'ang', pos: [752, 429], leg: [1079, 549], x: xD, lines: [
    ['proposed', dProposed, dProposedLo, dProposedHi], ['nonlocal', dNonlocal, dNonlocalLo, dNonlocalHi],
    ['nondecay', dNondecay, dNondecayLo, dNondecayHi]] },
  { letter: 'E', kind: 'obj', pos: [139, 826], leg: [466, 1022], x: xE, lines: [
    ['proposed', eProposed, eProposedLo, eProposedHi], ['nonlocal', eNonlocal, eNonlocalLo, eNonlocalHi],
    ['nondecay', eNondecay, eNondecayLo, eNondecayHi], ['MSG-CCA', eMsg]] },
  { letter: 'F', kind: 'ang', pos: [752, 826], leg: [1079, 946], x: xF, lines: [
    ['proposed', fProposed, fProposedLo, fProposedHi], ['nonlocal', fNonlocal, fNonlocalLo, fNonlocalHi],
    ['nondecay', fNondecay, fNondecayLo, fNondecayHi]] },
]

function bandSeries(i, xs, lo, hi, fill) {
  return {
    type: 'custom', xAxisIndex: i, yAxisIndex: i, clip: true, silent: true, z: 1,
    data: [[xs[0], lo[0]]],
    renderItem(params, api) {
      const pts = xs.map((x, k) => api.coord([x, hi[k]]))
      for (let k = xs.length - 1; k >= 0; k--) pts.push(api.coord([xs[k], lo[k]]))
      return { type: 'polygon', shape: { points: pts }, style: { fill: fill, stroke: null } }
    }
  }
}

const axisText = { color: '#000', fontSize: 20, fontFamily: FONT }
const tickStyle = { color: '#000', width: 1.3 }
const grid = [], xAxis = [], yAxis = [], series = [], legend = [], title = []

panels.forEach((p, i) => {
  grid.push({ left: p.pos[0], top: p.pos[1], width: p.kind === 'obj' ? 512 : 511, height: 331,
    show: true, borderColor: '#000', borderWidth: 1.3, backgroundColor: 'transparent' })
  xAxis.push({ gridIndex: i, type: 'value', min: 0, max: 300000, interval: 50000,
    axisLine: { show: true, lineStyle: tickStyle },
    axisTick: { show: true, length: 6, customValues: xTicks, lineStyle: tickStyle },
    axisLabel: Object.assign({ margin: 12, customValues: xTicks, formatter: v => String(v) }, axisText),
    splitLine: { show: false } })
  const y = { gridIndex: i, type: 'value', min: 0, nameLocation: 'middle', nameGap: 56,
    nameTextStyle: axisText,
    axisLine: { show: true, lineStyle: tickStyle },
    splitLine: { show: false } }
  if (p.kind === 'obj') {
    Object.assign(y, { max: 1.2, interval: 0.2, name: 'Normalized objective',
      axisTick: { show: true, length: 6, customValues: objTicks, lineStyle: tickStyle },
      axisLabel: Object.assign({ margin: 14, customValues: objTicks, formatter: v => v.toFixed(1) }, axisText) })
  } else {
    Object.assign(y, { max: 89.76, interval: 20, name: 'Angular error',
      axisTick: { show: true, length: 6, customValues: angTicks, lineStyle: tickStyle },
      axisLabel: Object.assign({ margin: 14, customValues: angTicks, showMaxLabel: true,
        formatter: v => String(Math.round(v)) }, axisText) })
  }
  yAxis.push(y)

  p.lines.forEach(([name, ys, lo, hi]) => {
    if (lo) series.push(bandSeries(i, p.x, lo, hi, FILL[name]))
  })
  p.lines.forEach(([name, ys]) => {
    series.push({ type: 'line', name, xAxisIndex: i, yAxisIndex: i, z: 2,
      data: p.x.map((x, k) => [x, ys[k]]), symbol: 'none', showSymbol: false,
      lineStyle: { color: COLOR[name], width: 2 }, itemStyle: { color: COLOR[name] }, color: COLOR[name] })
  })

  legend.push({ left: p.leg[0], top: p.leg[1], orient: 'vertical', selectedMode: false,
    data: p.lines.map(l => l[0]), icon: 'rect', itemWidth: 43, itemHeight: 2, itemGap: 10,
    padding: [6, 8, 6, 7], backgroundColor: 'rgba(255,255,255,0.85)',
    borderColor: '#cccccc', borderWidth: 1, borderRadius: 4,
    textStyle: { color: '#000', fontSize: 20, fontFamily: FONT, padding: [0, 0, 0, 10] } })

  title.push({ text: p.letter, left: p.pos[0] - (p.kind === 'obj' ? 71 : 66), top: p.pos[1] - 9, padding: 0,
    textStyle: { color: '#000', fontSize: 20, fontWeight: 'bold', fontFamily: FONT } })
})

const chart = echarts.init(document.getElementById('chart'))
chart.setOption({
  animation: false,
  backgroundColor: '#fff',
  title, grid, xAxis, yAxis, series, legend,
  graphic: [{ type: 'rect', shape: { x: 7, y: 6, width: 1347, height: 1200 },
    style: { fill: 'none', stroke: '#8a8a8a', lineWidth: 2 }, silent: true }]
})
</script>
</body>
</html>
